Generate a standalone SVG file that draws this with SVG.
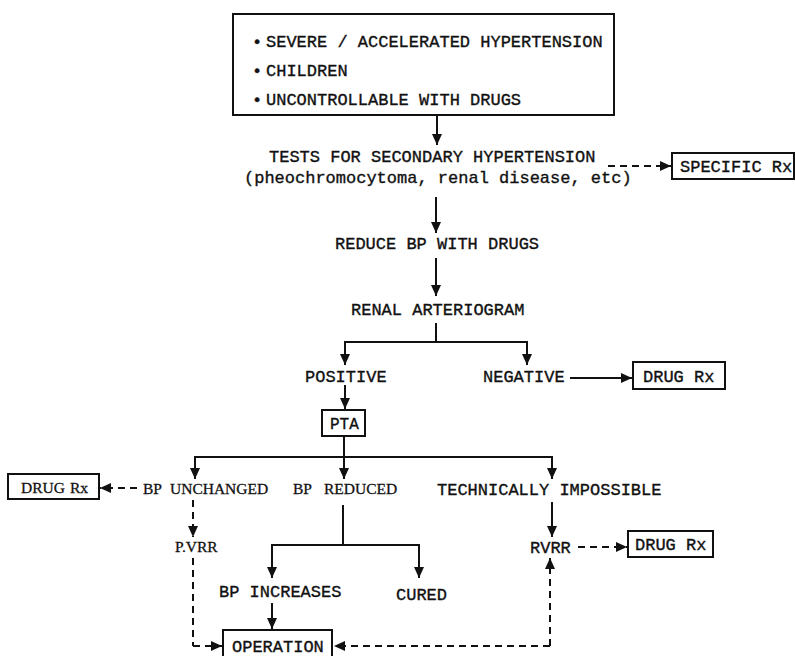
<svg xmlns="http://www.w3.org/2000/svg" width="795" height="656" viewBox="0 0 795 656">
<style>
.m{font-family:"Liberation Mono","Courier New",monospace;font-size:17px;fill:#111;stroke:#111;stroke-width:0.35}
.s{font-family:"Liberation Serif","Times New Roman",serif;font-size:15.5px;fill:#111;stroke:#111;stroke-width:0.3}
.box{fill:#fff;stroke:#111;stroke-width:2}
.ln{fill:none;stroke:#111;stroke-width:2}
.ar{fill:none;stroke:#111;stroke-width:2;marker-end:url(#ah)}
.da{fill:none;stroke:#111;stroke-width:2;stroke-dasharray:7 5;marker-end:url(#ah)}
.dl{fill:none;stroke:#111;stroke-width:2;stroke-dasharray:7 5}
</style>
<defs>
<marker id="ah" markerUnits="userSpaceOnUse" markerWidth="12" markerHeight="10" refX="11" refY="5" orient="auto">
<path d="M0,0 L11,5 L0,10 z" fill="#111"/>
</marker>
</defs>
<rect width="795" height="656" fill="#fff"/>

<g id="criteria">
<rect class="box" x="233" y="14" width="381" height="101"/>
<text class="m" y="47"><tspan x="252">•</tspan><tspan x="266">SEVERE / ACCELERATED HYPERTENSION</tspan></text>
<text class="m" y="76"><tspan x="252">•</tspan><tspan x="266">CHILDREN</tspan></text>
<text class="m" y="105"><tspan x="252">•</tspan><tspan x="266">UNCONTROLLABLE WITH DRUGS</tspan></text>
</g>
<g id="tests">
<text class="m" x="269" y="162">TESTS FOR SECONDARY HYPERTENSION</text>
<text class="m" x="244" y="183">(pheochromocytoma, renal disease, etc)</text>
</g>
<g id="specific">
<rect class="box" x="672" y="153" width="122" height="26"/>
<text class="m" x="680" y="172">SPECIFIC Rx</text>
</g>
<g id="reduce"><text class="m" x="335" y="249">REDUCE BP WITH DRUGS</text></g>
<g id="arteriogram"><text class="m" x="351" y="315">RENAL ARTERIOGRAM</text></g>
<g id="positive"><text class="m" x="305" y="382">POSITIVE</text></g>
<g id="negative"><text class="m" x="483" y="382">NEGATIVE</text></g>
<g id="drug1">
<rect class="box" x="633" y="362" width="92" height="27"/>
<text class="m" x="643" y="382">DRUG Rx</text>
</g>
<g id="pta">
<rect class="box" x="322" y="410" width="43" height="26"/>
<text class="m" x="330" y="429" style="font-size:16px">PTA</text>
</g>
<g id="unchanged"><text class="s" y="494"><tspan x="143">BP</tspan><tspan x="170">UNCHANGED</tspan></text></g>
<g id="reduced"><text class="s" y="494"><tspan x="293">BP</tspan><tspan x="324">REDUCED</tspan></text></g>
<g id="impossible"><text class="m" x="437" y="495">TECHNICALLY IMPOSSIBLE</text></g>
<g id="drug2">
<rect class="box" x="8" y="474" width="91" height="25"/>
<text class="s" y="493"><tspan x="21">DRUG</tspan><tspan x="70">Rx</tspan></text>
</g>
<g id="pvrr"><text class="s" x="175" y="552">P.VRR</text></g>
<g id="rvrr"><text class="m" x="530" y="553">RVRR</text></g>
<g id="drug3">
<rect class="box" x="628" y="531" width="85" height="26"/>
<text class="m" x="635" y="550">DRUG Rx</text>
</g>
<g id="increases"><text class="m" x="219" y="597">BP INCREASES</text></g>
<g id="cured"><text class="m" x="396" y="600">CURED</text></g>
<g id="operation">
<rect class="box" x="223" y="630" width="109" height="32"/>
<text class="m" x="232" y="652">OPERATION</text>
</g>

<g id="connectors">
<path class="ar" d="M437,115 V145"/>
<path class="da" d="M608,166 H671"/>
<path class="ar" d="M436,197 V233"/>
<path class="ar" d="M436,258 V296"/>
<path class="ln" d="M436,323 V342"/>
<path class="ar" d="M436,342 H345 V365"/>
<path class="ar" d="M436,342 H527 V365"/>
<path class="ar" d="M570,378 H632"/>
<path class="ar" d="M345,385 V409"/>
<path class="ln" d="M344,436 V457"/>
<path class="ar" d="M344,457 H195 V479"/>
<path class="ar" d="M344,457 V479"/>
<path class="ar" d="M344,457 H552 V479"/>
<path class="da" d="M137,488 H100"/>
<path class="da" d="M193,500 V537"/>
<path class="dl" d="M193,558 V646"/>
<path class="da" d="M193,646 H222"/>
<path class="ln" d="M343,505 V545"/>
<path class="ar" d="M343,545 H272 V578"/>
<path class="ar" d="M343,545 H419 V578"/>
<path class="ar" d="M272,603 V629"/>
<path class="ar" d="M552,502 V537"/>
<path class="da" d="M578,547 H627"/>
<path class="da" d="M550,646 H334"/>
<path class="da" d="M550,646 V558"/>
</g>
</svg>
